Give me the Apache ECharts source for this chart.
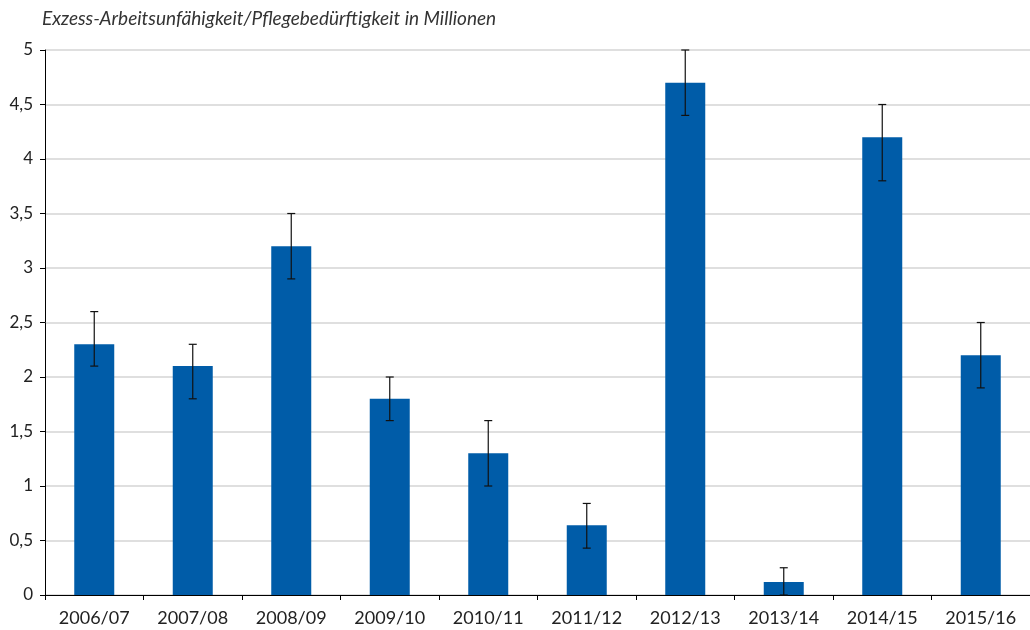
<!DOCTYPE html>
<html>
<head>
<meta charset="utf-8">
<script src="https://cdn.jsdelivr.net/npm/echarts@6/dist/echarts.min.js"></script>
<style>
  html, body { margin: 0; padding: 0; background: #fff; }
  #chart { width: 1030px; height: 630px; }
</style>
</head>
<body>
<div id="chart"></div>
<script>
// Seasons on the x axis
const seasons = ['2006/07', '2007/08', '2008/09', '2009/10', '2010/11',
                 '2011/12', '2012/13', '2013/14', '2014/15', '2015/16'];
// Estimated excess cases (millions)
const excess = [2.3, 2.1, 3.2, 1.8, 1.3, 0.64, 4.7, 0.12, 4.2, 2.2];
// Lower and upper bounds of the uncertainty range
const lowerBound = [2.1, 1.8, 2.9, 1.6, 1.0, 0.43, 4.4, 0.0, 3.8, 1.9];
const upperBound = [2.6, 2.3, 3.5, 2.0, 1.6, 0.84, 5.0, 0.25, 4.5, 2.5];

const axisFont = 'Lato, "Open Sans", sans-serif';

const chart = echarts.init(document.getElementById('chart'), null, { renderer: 'canvas' });

chart.setOption({
  animation: false,
  title: {
    text: 'Exzess-Arbeitsunfähigkeit/Pflegebedürftigkeit in Millionen',
    left: 37,
    top: 4,
    textStyle: {
      fontFamily: axisFont,
      fontStyle: 'italic',
      fontWeight: 'normal',
      fontSize: 19,
      color: '#333'
    }
  },
  grid: { left: 45, right: 0, top: 50, bottom: 35 },
  xAxis: {
    type: 'category',
    data: seasons,
    axisLine: { lineStyle: { color: '#000', width: 1 } },
    axisTick: { show: true, length: 5, lineStyle: { color: '#000' }, alignWithLabel: false },
    axisLabel: { fontFamily: axisFont, fontSize: 18, color: '#222', margin: 14 },
    splitLine: { show: false }
  },
  yAxis: {
    type: 'value',
    min: 0,
    max: 5,
    interval: 0.5,
    axisLine: { show: true, lineStyle: { color: '#000', width: 1 } },
    axisTick: { show: true, length: 5, lineStyle: { color: '#000' } },
    axisLabel: {
      fontFamily: axisFont,
      fontSize: 17,
      color: '#222',
      margin: 12,
      formatter: v => String(v).replace('.', ',')
    },
    splitLine: { lineStyle: { color: '#d4d4d4', width: 1.5 } }
  },
  series: [
    {
      type: 'bar',
      data: excess,
      barWidth: 40,
      itemStyle: { color: '#005ca8' }
    },
    {
      type: 'custom',
      data: seasons.map((s, i) => [i, lowerBound[i], upperBound[i]]),
      encode: { x: 0, y: [1, 2] },
      z: 10,
      renderItem: function (params, api) {
        const idx = api.value(0);
        const lo = api.coord([idx, api.value(1)]);
        const hi = api.coord([idx, api.value(2)]);
        const half = 4;
        const style = { stroke: '#111', lineWidth: 1.2 };
        return {
          type: 'group',
          children: [
            { type: 'line', shape: { x1: lo[0], y1: lo[1], x2: hi[0], y2: hi[1] }, style },
            { type: 'line', shape: { x1: hi[0] - half, y1: hi[1], x2: hi[0] + half, y2: hi[1] }, style },
            { type: 'line', shape: { x1: lo[0] - half, y1: lo[1], x2: lo[0] + half, y2: lo[1] }, style }
          ]
        };
      }
    }
  ]
});
</script>
</body>
</html>
